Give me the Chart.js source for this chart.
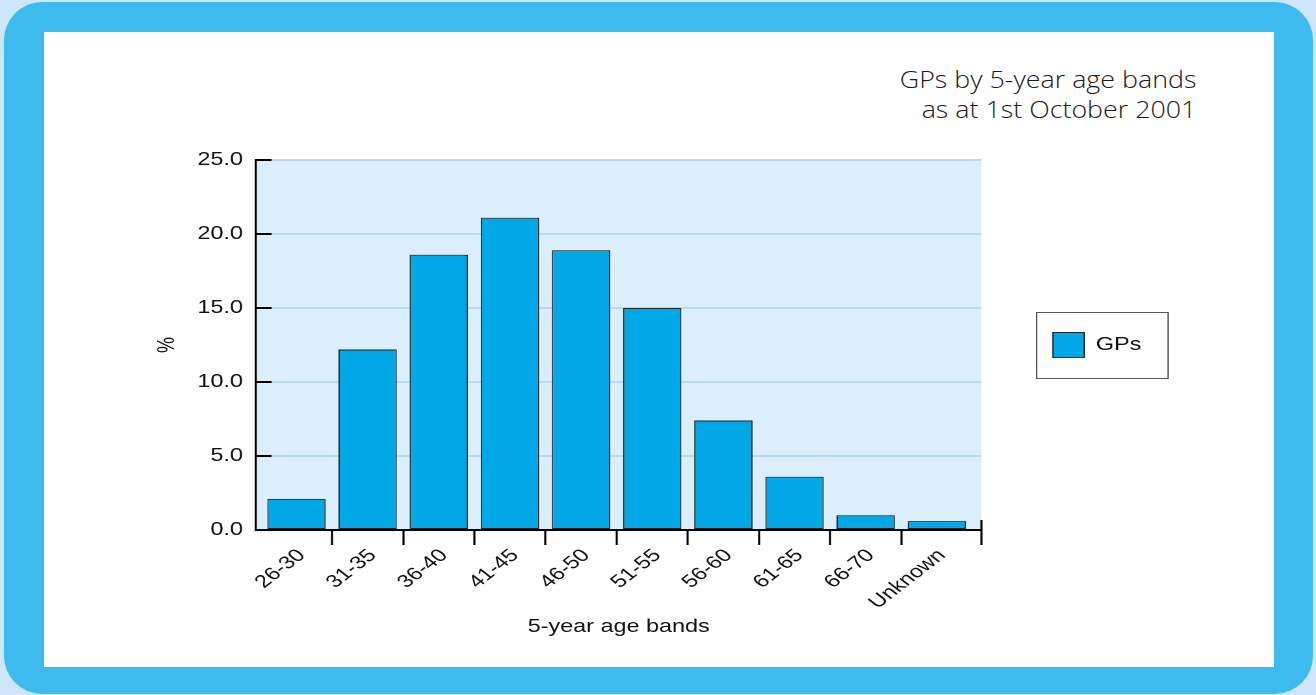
<!DOCTYPE html>
<html>
<head>
<meta charset="utf-8">
<script src="https://cdn.jsdelivr.net/npm/chart.js@4.4.1/dist/chart.umd.min.js"></script>
<style>
  html, body { margin: 0; padding: 0; }
  body { width: 1316px; height: 695px; background: #cde6f8; position: relative; overflow: hidden; }
  #frame { position: absolute; left: 4px; top: 2px; width: 1309px; height: 692px; border-radius: 38px; background: #3dbbee; }
  #panel { position: absolute; left: 44px; top: 32px; width: 1230px; height: 635px; background: #ffffff; }
  #heading { position: absolute; right: 120px; top: 64px; text-align: right; font-family: 'Open Sans', 'Lato', sans-serif; font-weight: 300; font-size: 23px; line-height: 30px; color: #1a1a1a; white-space: nowrap; transform: scaleX(1.166); transform-origin: right top; }
  #c { position: absolute; left: 44px; top: 32px; width: 1230px; height: 635px; }
</style>
</head>
<body>
<div id="frame"></div>
<div id="panel"></div>
<div id="heading">GPs by 5-year age bands<br>as at 1st October 2001</div>
<canvas id="c" width="946" height="635" style="width:1230px;height:635px;"></canvas>
<script>
// ---- data ----
const categories = ['26-30', '31-35', '36-40', '41-45', '46-50', '51-55', '56-60', '61-65', '66-70', 'Unknown'];
const gpValues = [2.1, 12.2, 18.6, 21.1, 18.9, 15.0, 7.4, 3.6, 1.0, 0.6];
const seriesName = 'GPs';
const yTickMin = 0;
const yTickMax = 25;
const yTickStep = 5;
const xAxisTitle = '5-year age bands';
const yAxisTitle = '%';

Chart.defaults.font.family = "'Liberation Sans', Arial, sans-serif";
Chart.defaults.color = '#111';

const plotBg = {
  id: 'plotBg',
  beforeDraw(chart) {
    const { ctx, chartArea: a } = chart;
    ctx.save();
    ctx.fillStyle = '#dbeefb';
    ctx.fillRect(a.left, a.top, a.right - a.left, a.bottom - a.top);
    ctx.restore();
  },
  afterDraw(chart) {
    const { ctx, chartArea: a } = chart;
    ctx.save();
    // axis end cap
    ctx.strokeStyle = '#000';
    ctx.lineWidth = 1.6;
    ctx.beginPath();
    ctx.moveTo(a.right, a.bottom - 10);
    ctx.lineTo(a.right, a.bottom + 15);
    ctx.stroke();
    // legend frame
    const lg = chart.legend;
    if (lg && lg.legendHitBoxes && lg.legendHitBoxes.length) {
      const hb = lg.legendHitBoxes[0];
      const cy = hb.top + hb.height / 2;
      ctx.strokeStyle = '#555';
      ctx.lineWidth = 1;
      ctx.strokeRect(Math.round(hb.left - 13) + 0.5, Math.round(cy - 33) + 0.5, 101, 66);
    }
    ctx.restore();
  }
};

new Chart(document.getElementById('c'), {
  type: 'bar',
  data: {
    labels: categories,
    datasets: [{
      label: seriesName,
      data: gpValues,
      backgroundColor: '#00a8e8',
      borderColor: '#222',
      borderWidth: 1,
      borderSkipped: false,
      barPercentage: 0.82,
      categoryPercentage: 1.0
    }]
  },
  options: {
    responsive: false,
    devicePixelRatio: 2,
    animation: false,
    layout: { padding: { left: 72, top: 128, right: 92, bottom: 20 } },
    plugins: {
      title: { display: false },
      tooltip: { enabled: false },
      legend: {
        display: true,
        position: 'right',
        align: 'center',
        fullSize: false,
        labels: {
          boxWidth: 24,
          boxHeight: 25,
          padding: 55,
          color: '#111',
          font: { size: 18 }
        }
      }
    },
    scales: {
      x: {
        type: 'category',
        offset: true,
        afterBuildTicks(s) {
          s._startValue = -0.57;
          s._valueRange = 10.197;
        },
        afterFit(s) { s.height = 117; },
        grid: {
          display: true,
          offset: true,
          drawOnChartArea: false,
          drawTicks: true,
          tickLength: 15,
          tickWidth: 1.6,
          tickColor: (ctx) => (ctx.type !== 'tick' || ctx.index === 0) ? 'rgba(0,0,0,0)' : '#000'
        },
        border: { display: true, color: '#000', width: 2 },
        ticks: {
          autoSkip: false,
          minRotation: 45,
          maxRotation: 45,
          labelOffset: 4,
          padding: 0,
          color: '#111',
          font: { size: 18 }
        },
        title: {
          display: true,
          text: xAxisTitle,
          color: '#111',
          font: { size: 18 },
          padding: { top: 0, bottom: 9 }
        }
      },
      y: {
        min: yTickMin,
        max: yTickMax,
        afterFit(s) { s.width = 91; },
        grid: {
          color: '#b5dcf3',
          lineWidth: 2,
          drawTicks: true,
          tickLength: -12,
          tickColor: '#000',
          tickWidth: 2
        },
        border: { display: true, color: '#000', width: 1.6 },
        ticks: {
          stepSize: yTickStep,
          padding: 22,
          color: '#111',
          font: { size: 18 },
          callback: (v) => Number(v).toFixed(1)
        },
        title: {
          display: true,
          text: yAxisTitle,
          color: '#111',
          font: { size: 18 },
          padding: { top: 12, bottom: 0 }
        }
      }
    }
  },
  plugins: [plotBg]
});
</script>
</body>
</html>
